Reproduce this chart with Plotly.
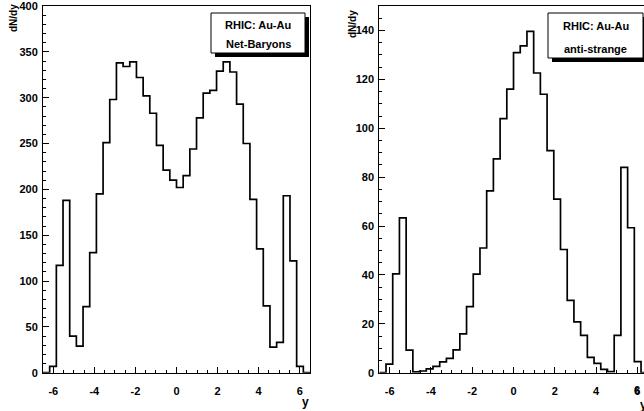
import numpy as np
import plotly.graph_objects as go

# ---------------- data ----------------
y_min, y_max, n_bins = -6.5, 6.5, 40

net_baryons = [0, 7, 117, 188, 40, 29, 72, 131, 195, 251,
               298, 338, 334, 339, 322, 302, 283, 248, 221, 210,
               202, 215, 244, 278, 305, 308, 329, 339, 328, 293,
               250, 189, 135, 73, 28, 33, 193, 122, 7, 0]

anti_strange = [0, 3.5, 40.4, 63.3, 9.2, 0.3, 0.7, 1.6, 2.6, 4.4,
                5.9, 9.3, 15.9, 27, 40.3, 51, 74.4, 87.5, 103.9, 116,
                130.9, 133.7, 139.6, 122.6, 113.9, 90.8, 71, 50.4, 29.6, 20.8,
                15.3, 6.3, 3.8, 1.4, 0.4, 15.3, 84, 59.3, 4.5, 0]

x_tick_vals = [-6, -4, -2, 0, 2, 4, 6]
x_tick_text = ["-6", "-4", "-2", "0", "2", "4", "6"]
left_y_ticks = [0, 50, 100, 150, 200, 250, 300, 350, 400]
right_y_ticks = [0, 20, 40, 60, 80, 100, 120, 140]

edges = np.linspace(y_min, y_max, n_bins + 1)

W, H = 644, 411
FONT = "Liberation Sans"


def px(x):
    return x / W


def py(y):
    return 1 - y / H


fig = go.Figure()
fig.add_trace(go.Scatter(x=edges, y=net_baryons + [net_baryons[-1]], mode="lines",
                         line=dict(shape="hv", color="black", width=1.7),
                         xaxis="x", yaxis="y", showlegend=False, hoverinfo="skip"))
fig.add_trace(go.Scatter(x=edges, y=anti_strange + [anti_strange[-1]], mode="lines",
                         line=dict(shape="hv", color="black", width=1.7),
                         xaxis="x2", yaxis="y2", showlegend=False, hoverinfo="skip"))

tickfont = dict(family=FONT, size=11, color="black", weight="bold")


def xaxis(domain, rng, anchor):
    return dict(domain=domain, range=rng, anchor=anchor, showgrid=False, zeroline=False,
                automargin=False,
                showline=True, linecolor="black", linewidth=1, mirror=True,
                ticks="inside", ticklen=6, tickwidth=1, tickcolor="black",
                tickvals=x_tick_vals, ticktext=x_tick_text, tickfont=tickfont,
                ticklabelstandoff=8, ticklabeloverflow="allow",
                minor=dict(ticks="inside", ticklen=3, tickwidth=1, tickcolor="black",
                           dtick=0.5, tick0=0, showgrid=False))


def yaxis(domain, rng, anchor, ticks, minor_dt, mirror):
    return dict(domain=domain, range=rng, anchor=anchor, showgrid=False, zeroline=False,
                automargin=False,
                showline=True, linecolor="black", linewidth=1, mirror=mirror,
                ticks="inside", ticklen=6, tickwidth=1, tickcolor="black",
                tickvals=ticks, tickfont=tickfont, ticklabelstandoff=2,
                ticklabeloverflow="allow",
                minor=dict(ticks="inside", ticklen=3, tickwidth=1, tickcolor="black",
                           dtick=minor_dt, tick0=0, showgrid=False))


ydom = [py(372.7), py(6)]
right_xmax = y_min + (W - 379.3) / 20.65

fig.update_layout(
    width=W, height=H, margin=dict(l=0, r=0, t=0, b=0, autoexpand=False),
    paper_bgcolor="white", plot_bgcolor="white",
    xaxis=xaxis([px(43), px(310)], [y_min, y_max], "y"),
    yaxis=yaxis(ydom, [0, 400], "x", left_y_ticks, 10, True),
    xaxis2=xaxis([px(379.3), 1.0], [y_min, right_xmax], "y2"),
    yaxis2=yaxis(ydom, [0, 150], "x2", right_y_ticks, 5, False),
)

shapes = []
annotations = []


def legend_box(x0, y0, x1, y1, line1, line2, ty1, ty2):
    shapes.append(dict(type="rect", xref="paper", yref="paper",
                       x0=px(x0 + 4), x1=px(x1 + 4), y0=py(y1 + 4), y1=py(y0 + 4),
                       fillcolor="black", line=dict(width=0), layer="above"))
    shapes.append(dict(type="rect", xref="paper", yref="paper",
                       x0=px(x0), x1=px(x1), y0=py(y1), y1=py(y0),
                       fillcolor="white", line=dict(color="black", width=1), layer="above"))
    cx = (x0 + x1) / 2
    for t, ty in ((line1, ty1), (line2, ty2)):
        annotations.append(dict(text=t, xref="paper", yref="paper", x=px(cx), y=py(ty),
                                xanchor="center", yanchor="middle", showarrow=False,
                                font=dict(family=FONT, size=11, color="black", weight="bold")))


legend_box(211, 13, 305, 53, "RHIC: Au-Au", "Net-Baryons", 25, 44)
legend_box(548, 13, 643, 58, "RHIC: Au-Au", "anti-strange", 26, 49)

for x, y in ((14, 18), (352, 24)):
    annotations.append(dict(text="dN/dy", xref="paper", yref="paper", x=px(x), y=py(y),
                            xanchor="center", yanchor="middle", textangle=-90, showarrow=False,
                            font=dict(family=FONT, size=10, color="black", weight="bold")))
for x, y in ((305, 402), (643, 405)):
    annotations.append(dict(text="y", xref="paper", yref="paper", x=px(x), y=py(y),
                            xanchor="center", yanchor="middle", showarrow=False,
                            font=dict(family=FONT, size=12, color="black", weight="bold")))

# the last tick label of the clipped right panel is not drawn by plotly at the page edge
annotations.append(dict(text=x_tick_text[-1], xref="x2", yref="paper", x=x_tick_vals[-1],
                        y=py(390), xanchor="center", yanchor="middle", showarrow=False,
                        font=tickfont))

fig.update_layout(shapes=shapes, annotations=annotations)
fig.write_html("out.html", config={"displayModeBar": False},
               post_script="document.body.style.margin='0';document.body.style.overflow='hidden';")
